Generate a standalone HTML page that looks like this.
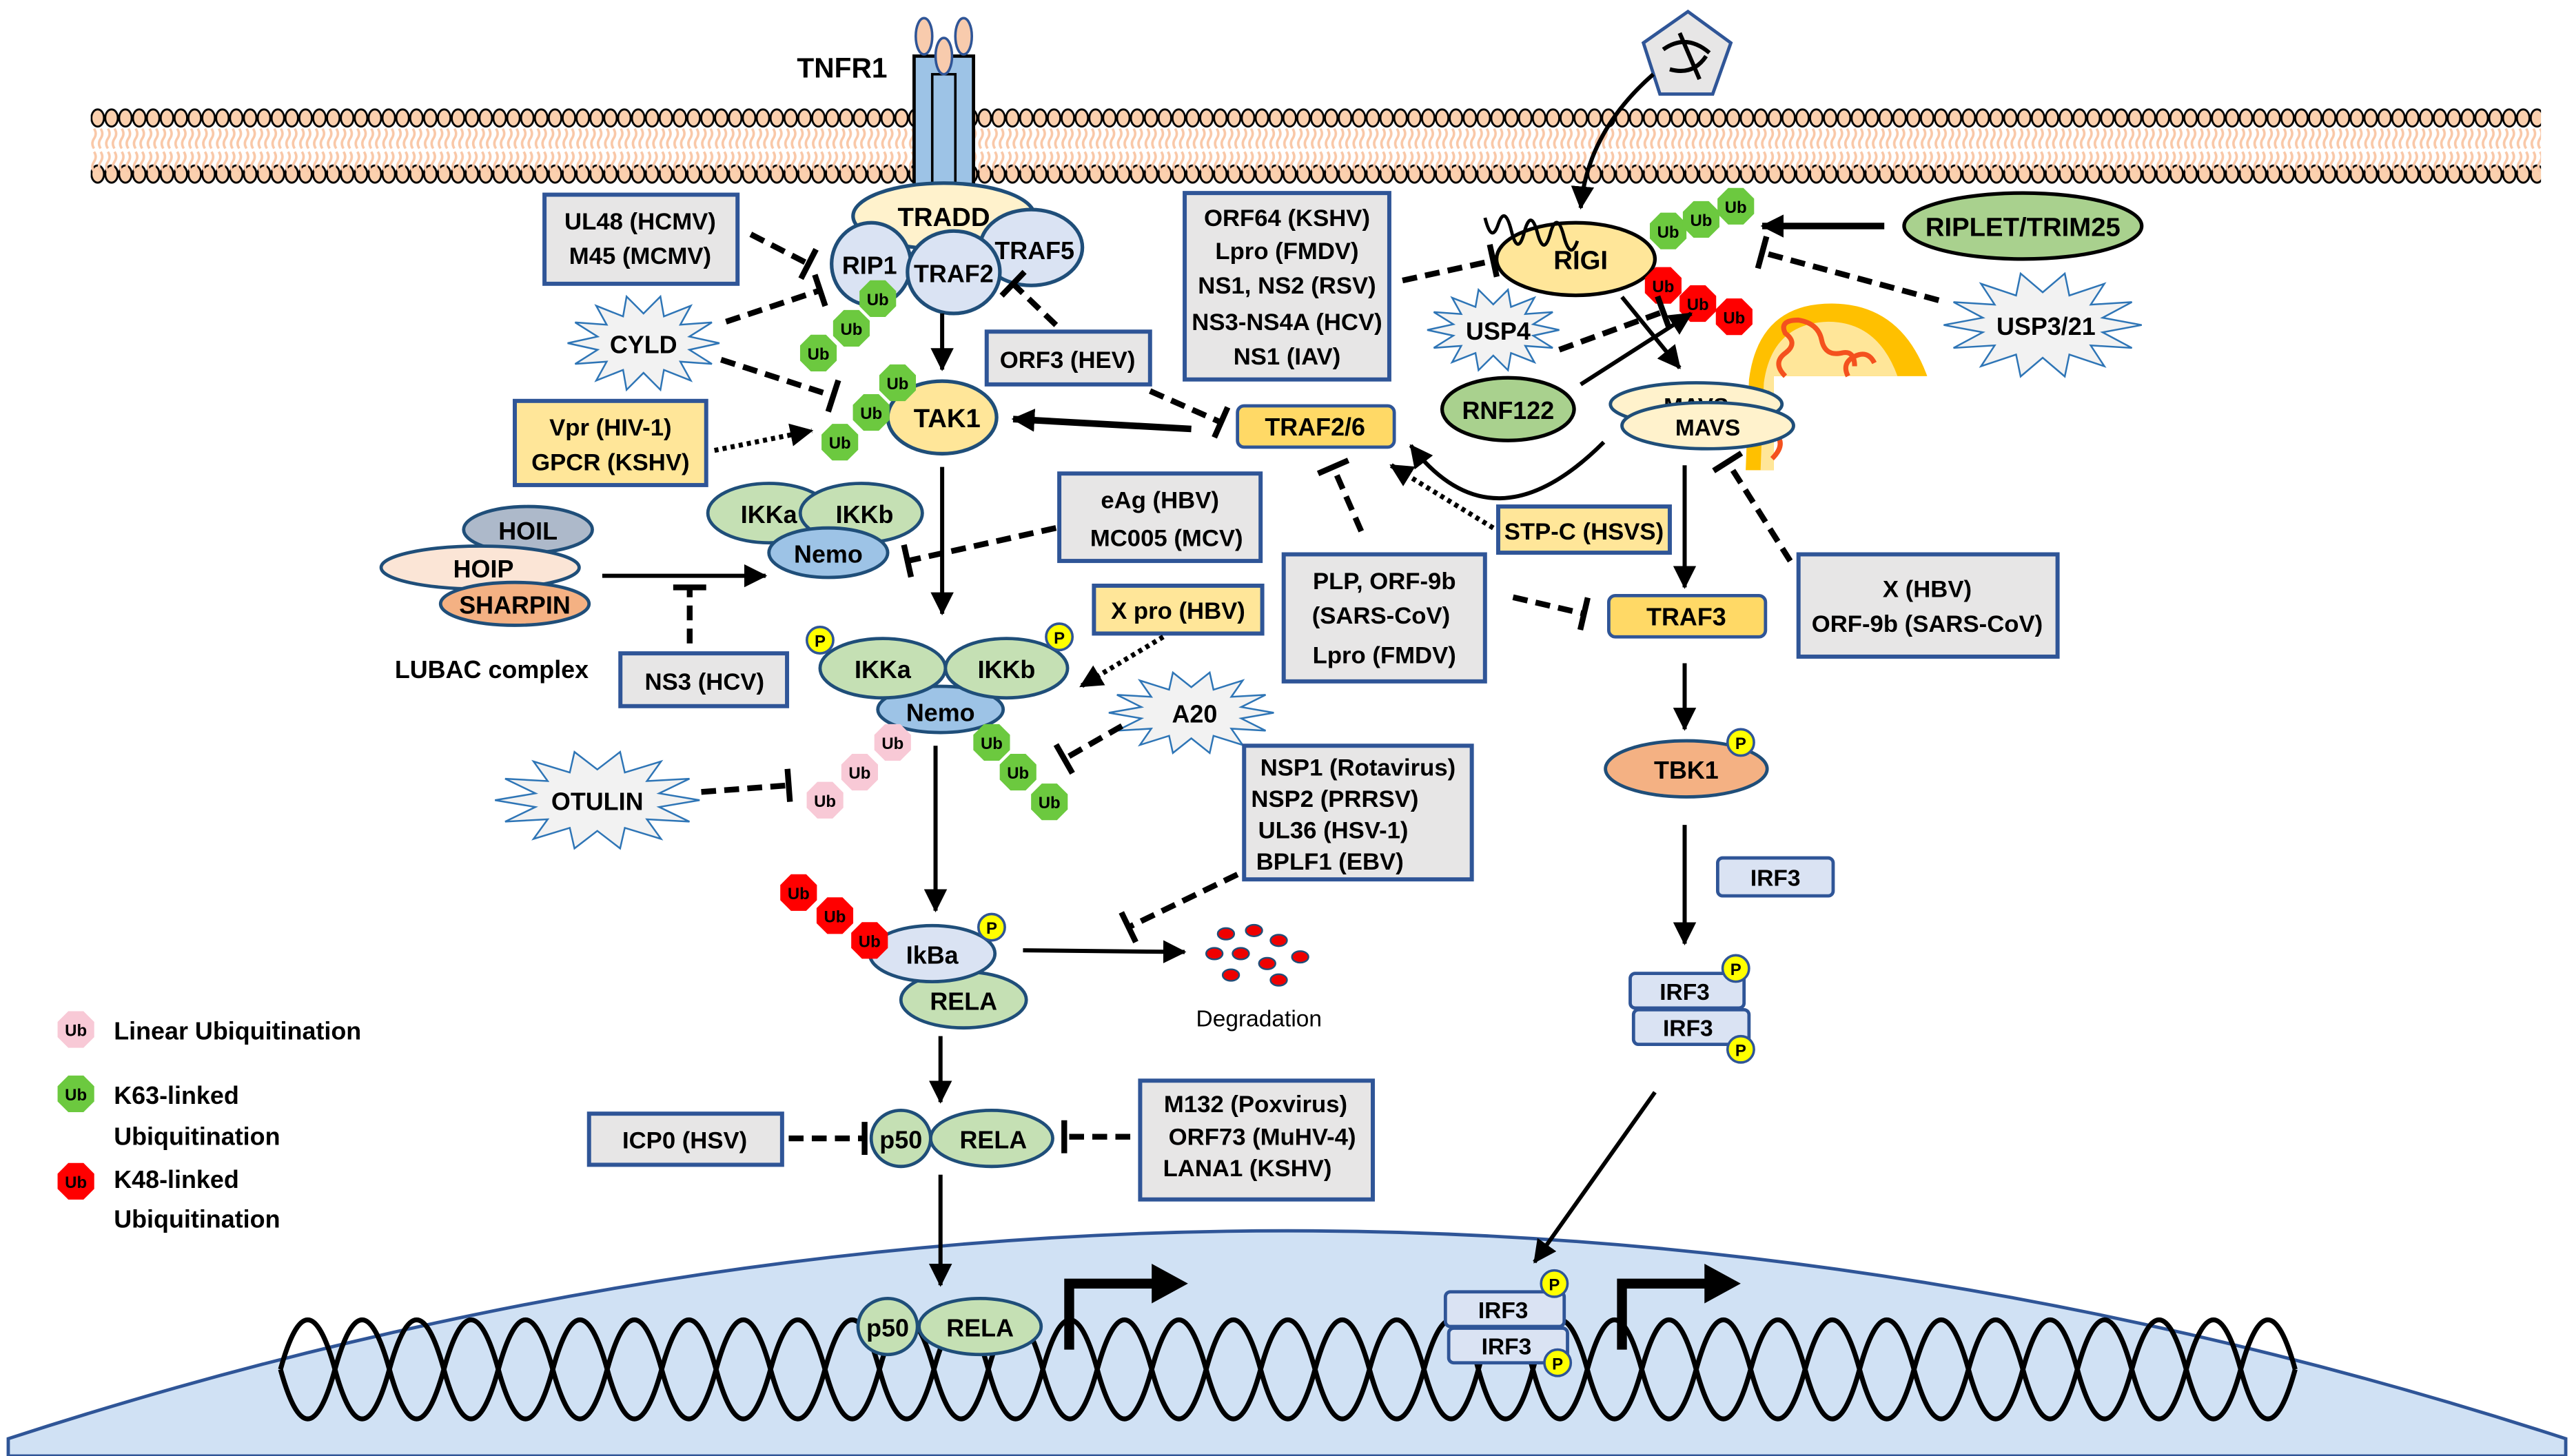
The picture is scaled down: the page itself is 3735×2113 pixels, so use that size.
<!DOCTYPE html>
<html><head><meta charset="utf-8"><style>
html,body{margin:0;padding:0;background:#fff}
svg{display:block}
text{font-family:"Liberation Sans",sans-serif;font-weight:bold;fill:#000}
</style></head><body>
<svg width="3735" height="2113" viewBox="0 0 1560 882.5" preserveAspectRatio="none" xmlns="http://www.w3.org/2000/svg">
<defs>
<pattern id="heads" x="55" y="0" width="8.4" height="200" patternUnits="userSpaceOnUse">
<ellipse cx="4.2" cy="71.5" rx="3.8" ry="5.2" fill="#fbd0ae" stroke="#000" stroke-width="1.2"/>
<ellipse cx="4.2" cy="105.5" rx="3.8" ry="5.2" fill="#fbd0ae" stroke="#000" stroke-width="1.2"/>
<path d="M2,78 q2,3 0,6 q-2,3 0,6 M6,78 q2,3 0,6 q-2,3 0,6 M2,92 q2,3 0,6 q-2,3 0,6 M6,92 q2,3 0,6 q-2,3 0,6" stroke="#f9c8a8" stroke-width="1.5" fill="none"/>
</pattern>
<polygon id="oct" points="11.1,4.6 4.6,11.1 -4.6,11.1 -11.1,4.6 -11.1,-4.6 -4.6,-11.1 4.6,-11.1 11.1,-4.6"/>
<polygon id="star" vector-effect="non-scaling-stroke" points="1,0 .605,.138 .901,.434 .485,.386 .623,.782 .269,.559 .223,.975 0,.62 -.223,.975 -.269,.559 -.623,.782 -.485,.386 -.901,.434 -.605,.138 -1,0 -.605,-.138 -.901,-.434 -.485,-.386 -.623,-.782 -.269,-.559 -.223,-.975 0,-.62 .223,-.975 .269,-.559 .623,-.782 .485,-.386 .901,-.434 .605,-.138"/>
<marker id="ah" markerUnits="userSpaceOnUse" markerWidth="16" markerHeight="14" refX="13" refY="7" orient="auto"><path d="M0,0 L14,7 L0,14 Z" fill="#000"/></marker>
<marker id="bar" markerUnits="userSpaceOnUse" markerWidth="6" markerHeight="24" refX="3" refY="12" orient="auto"><path d="M3,2 L3,22" stroke="#000" stroke-width="3.5"/></marker>
</defs>

<!-- membrane -->
<rect x="55" y="60" width="1485" height="55" fill="url(#heads)"/>

<!-- nucleus -->
<path d="M5,882.5 L5,872 Q780,620 1555,872 L1555,882.5 Z" fill="#d0e1f4" stroke="#2f5597" stroke-width="2"/>

<!-- DNA -->
<g fill="none" stroke="#000" stroke-width="3">
<path d="M170,830 q16.5,-60 33,0 t33,0 t33,0 t33,0 t33,0 t33,0 t33,0 t33,0 t33,0 t33,0 t33,0 t33,0 t33,0 t33,0 t33,0 t33,0 t33,0 t33,0 t33,0 t33,0 t33,0 t33,0 t33,0 t33,0 t33,0 t33,0 t33,0 t33,0 t33,0 t33,0 t33,0 t33,0 t33,0 t33,0 t33,0 t33,0 t33,0"/>
<path d="M170,830 q16.5,60 33,0 t33,0 t33,0 t33,0 t33,0 t33,0 t33,0 t33,0 t33,0 t33,0 t33,0 t33,0 t33,0 t33,0 t33,0 t33,0 t33,0 t33,0 t33,0 t33,0 t33,0 t33,0 t33,0 t33,0 t33,0 t33,0 t33,0 t33,0 t33,0 t33,0 t33,0 t33,0 t33,0 t33,0 t33,0 t33,0 t33,0"/>
</g>
<!-- promoter arrows -->
<path d="M648,818 L648,778 L700,778" fill="none" stroke="#000" stroke-width="6"/>
<path d="M698,766 L720,778 L698,790 Z"/>
<path d="M983,818 L983,778 L1035,778" fill="none" stroke="#000" stroke-width="6"/>
<path d="M1033,766 L1055,778 L1033,790 Z"/>

<!-- receptor -->
<rect x="554" y="34" width="36" height="80" fill="#9dc3e6" stroke="#000" stroke-width="2"/>
<rect x="565" y="45" width="14" height="69" fill="#9dc3e6" stroke="#000" stroke-width="1.5"/>
<ellipse cx="560" cy="22" rx="5" ry="11" fill="#f8cbad" stroke="#2f5597" stroke-width="1.5"/>
<ellipse cx="584" cy="22" rx="5" ry="11" fill="#f8cbad" stroke="#2f5597" stroke-width="1.5"/>
<ellipse cx="572" cy="34" rx="5" ry="11" fill="#f8cbad" stroke="#2f5597" stroke-width="1.5"/>
<text x="483" y="47" font-size="17">TNFR1</text>

<!-- virus pentagon -->
<polygon points="1023,7 1049,26 1038,57 1006,57 996,26" fill="#e7e6e6" stroke="#2f5597" stroke-width="2"/>
<path d="M1008,30 Q1022,20 1036,32 M1012,42 Q1026,46 1034,34 M1018,20 L1030,48" fill="none" stroke="#000" stroke-width="2.5"/>
<path d="M1002,45 Q962,80 958,126" fill="none" stroke="#000" stroke-width="2.5" marker-end="url(#ah)"/>

<!-- mitochondrion -->
<path d="M1058,285 L1060,230 Q1066,184 1110,184 Q1152,184 1168,228 L1075,228 L1075,285 Z" fill="#ffc000"/>
<path d="M1067,285 L1069,232 Q1074,196 1108,195 Q1138,195 1150,228 L1075,228 L1075,285 Z" fill="#ffe699"/>
<path d="M1082,228 q-8,-8 0,-14 q8,-6 0,-12 q-4,-8 8,-8 q12,2 14,12 q2,10 12,8 q8,-2 8,8 M1120,228 q-4,-8 4,-12 q8,-4 12,4 M1071,238 q8,4 3,12 q-5,8 3,14 q5,6 -3,14" fill="none" stroke="#f4511e" stroke-width="3"/>

<!-- TNF complex -->
<ellipse cx="572" cy="131" rx="55" ry="20" fill="#fff2cc" stroke="#1f4e79" stroke-width="2.2"/>
<ellipse cx="625" cy="150" rx="31" ry="23" fill="#dae3f3" stroke="#1f4e79" stroke-width="2.2"/>
<ellipse cx="528" cy="160" rx="24" ry="25" fill="#dae3f3" stroke="#1f4e79" stroke-width="2.2"/>
<ellipse cx="578" cy="165" rx="28" ry="25" fill="#dae3f3" stroke="#1f4e79" stroke-width="2.2"/>
<text x="572" y="137" font-size="16" text-anchor="middle">TRADD</text>
<text x="627" y="157" font-size="15" text-anchor="middle">TRAF5</text>
<text x="527" y="166" font-size="15" text-anchor="middle">RIP1</text>
<text x="578" y="171" font-size="15" text-anchor="middle">TRAF2</text>

<ellipse cx="571" cy="253" rx="33" ry="22" fill="#ffe699" stroke="#1f4e79" stroke-width="2.2"/>
<text x="574" y="259" font-size="16" text-anchor="middle">TAK1</text>

<!-- LUBAC -->
<ellipse cx="320" cy="321" rx="39" ry="14" fill="#adb9ca" stroke="#1f4e79" stroke-width="2"/>
<ellipse cx="291" cy="344" rx="60" ry="13" fill="#fbe5d6" stroke="#1f4e79" stroke-width="2"/>
<ellipse cx="312" cy="366" rx="45" ry="13" fill="#f4b183" stroke="#1f4e79" stroke-width="2"/>
<text x="320" y="327" font-size="15" text-anchor="middle">HOIL</text>
<text x="293" y="350" font-size="15" text-anchor="middle">HOIP</text>
<text x="312" y="372" font-size="15" text-anchor="middle">SHARPIN</text>
<text x="298" y="411" font-size="15" text-anchor="middle">LUBAC complex</text>

<!-- IKK upper -->
<ellipse cx="466" cy="311" rx="37" ry="18" fill="#c5e0b4" stroke="#1f4e79" stroke-width="2"/>
<ellipse cx="522" cy="311" rx="37" ry="18" fill="#c5e0b4" stroke="#1f4e79" stroke-width="2"/>
<ellipse cx="502" cy="335" rx="36" ry="15" fill="#9dc3e6" stroke="#1f4e79" stroke-width="2"/>
<text x="466" y="317" font-size="15" text-anchor="middle">IKKa</text>
<text x="524" y="317" font-size="15" text-anchor="middle">IKKb</text>
<text x="502" y="341" font-size="15" text-anchor="middle">Nemo</text>

<!-- IKK lower -->
<ellipse cx="570" cy="430" rx="38" ry="14" fill="#9dc3e6" stroke="#1f4e79" stroke-width="2"/>
<ellipse cx="535" cy="405" rx="38" ry="18" fill="#c5e0b4" stroke="#1f4e79" stroke-width="2"/>
<ellipse cx="610" cy="405" rx="37" ry="18" fill="#c5e0b4" stroke="#1f4e79" stroke-width="2"/>
<text x="535" y="411" font-size="15" text-anchor="middle">IKKa</text>
<text x="610" y="411" font-size="15" text-anchor="middle">IKKb</text>
<text x="570" y="437" font-size="15" text-anchor="middle">Nemo</text>

<!-- IkBa / RELA -->
<ellipse cx="584" cy="606" rx="38" ry="17" fill="#c5e0b4" stroke="#1f4e79" stroke-width="2"/>
<ellipse cx="565" cy="578" rx="38" ry="17" fill="#dae3f3" stroke="#1f4e79" stroke-width="2"/>
<text x="565" y="584" font-size="15" text-anchor="middle">IkBa</text>
<text x="584" y="612" font-size="15" text-anchor="middle">RELA</text>

<ellipse cx="601" cy="690" rx="37" ry="17" fill="#c5e0b4" stroke="#1f4e79" stroke-width="2"/>
<ellipse cx="546" cy="690" rx="18" ry="17" fill="#c5e0b4" stroke="#1f4e79" stroke-width="2"/>
<text x="546" y="696" font-size="15" text-anchor="middle">p50</text>
<text x="602" y="696" font-size="15" text-anchor="middle">RELA</text>
<ellipse cx="594" cy="804" rx="37" ry="17" fill="#c5e0b4" stroke="#1f4e79" stroke-width="2"/>
<ellipse cx="538" cy="804" rx="18" ry="17" fill="#c5e0b4" stroke="#1f4e79" stroke-width="2"/>
<text x="538" y="810" font-size="15" text-anchor="middle">p50</text>
<text x="594" y="810" font-size="15" text-anchor="middle">RELA</text>

<!-- RIG-I side -->
<ellipse cx="955" cy="157" rx="48" ry="22" fill="#ffe699" stroke="#000" stroke-width="2.2"/>
<text x="958" y="163" font-size="16" text-anchor="middle">RIGI</text>
<path d="M900,132 q4,16 8,4 q4,-12 8,4 q4,16 8,0 q4,-14 8,2 q4,14 8,-2 q4,-12 8,4 q4,14 8,2" fill="none" stroke="#000" stroke-width="2"/>
<ellipse cx="1226" cy="137" rx="72" ry="20" fill="#a9d18e" stroke="#000" stroke-width="2.2"/>
<text x="1226" y="143" font-size="16" text-anchor="middle">RIPLET/TRIM25</text>
<ellipse cx="914" cy="248" rx="40" ry="19" fill="#a9d18e" stroke="#000" stroke-width="2.2"/>
<text x="914" y="254" font-size="15" text-anchor="middle">RNF122</text>
<ellipse cx="1028" cy="245" rx="52" ry="13" fill="#fff2cc" stroke="#1f4e79" stroke-width="2"/>
<text x="1028" y="251" font-size="14" text-anchor="middle">MAVS</text>
<ellipse cx="1035" cy="258" rx="52" ry="14" fill="#fff2cc" stroke="#1f4e79" stroke-width="2"/>
<text x="1035" y="264" font-size="14" text-anchor="middle">MAVS</text>

<rect x="750" y="246" width="95" height="25" rx="4" fill="#ffd966" stroke="#2f5597" stroke-width="2"/>
<text x="797" y="264" font-size="15" text-anchor="middle">TRAF2/6</text>
<rect x="975" y="361" width="95" height="25" rx="4" fill="#ffd966" stroke="#2f5597" stroke-width="2"/>
<text x="1022" y="379" font-size="15" text-anchor="middle">TRAF3</text>
<ellipse cx="1022" cy="466" rx="49" ry="17" fill="#f4b183" stroke="#1f4e79" stroke-width="2"/>
<text x="1022" y="472" font-size="15" text-anchor="middle">TBK1</text>
<rect x="1041" y="520" width="70" height="23" rx="3" fill="#dae3f3" stroke="#2f5597" stroke-width="2"/>
<text x="1076" y="537" font-size="14" text-anchor="middle">IRF3</text>
<rect x="988" y="590" width="69" height="21" rx="3" fill="#dae3f3" stroke="#2f5597" stroke-width="2"/>
<rect x="990" y="612" width="70" height="21" rx="3" fill="#dae3f3" stroke="#2f5597" stroke-width="2"/>
<text x="1021" y="606" font-size="14" text-anchor="middle">IRF3</text>
<text x="1023" y="628" font-size="14" text-anchor="middle">IRF3</text>
<rect x="876" y="783" width="72" height="21" rx="3" fill="#dae3f3" stroke="#2f5597" stroke-width="2"/>
<rect x="878" y="805" width="72" height="21" rx="3" fill="#dae3f3" stroke="#2f5597" stroke-width="2"/>
<text x="911" y="799" font-size="14" text-anchor="middle">IRF3</text>
<text x="913" y="821" font-size="14" text-anchor="middle">IRF3</text>

<!-- P circles -->
<g fill="#ffff00" stroke="#2f5597" stroke-width="1.5">
<circle cx="497" cy="388" r="8"/><circle cx="642" cy="386" r="8"/><circle cx="601" cy="562" r="8"/>
<circle cx="1055" cy="450" r="8"/><circle cx="1052" cy="587" r="8"/><circle cx="1055" cy="636" r="8"/>
<circle cx="942" cy="778" r="8"/><circle cx="944" cy="826" r="8"/>
</g>
<g font-size="10" text-anchor="middle">
<text x="497" y="392">P</text><text x="642" y="390">P</text><text x="601" y="566">P</text>
<text x="1055" y="454">P</text><text x="1052" y="591">P</text><text x="1055" y="640">P</text>
<text x="942" y="782">P</text><text x="944" y="830">P</text>
</g>

<!-- Ub -->
<g fill="#6cc93f">
<use href="#oct" x="532" y="181"/><use href="#oct" x="516" y="199"/><use href="#oct" x="496" y="214"/>
<use href="#oct" x="544" y="232"/><use href="#oct" x="528" y="250"/><use href="#oct" x="509" y="268"/>
<use href="#oct" x="1011" y="140"/><use href="#oct" x="1031" y="133"/><use href="#oct" x="1052" y="125"/>
<use href="#oct" x="601" y="450"/><use href="#oct" x="617" y="468"/><use href="#oct" x="636" y="486"/>
<use href="#oct" x="46" y="663"/>
</g>
<g fill="#f00">
<use href="#oct" x="1008" y="173"/><use href="#oct" x="1029" y="184"/><use href="#oct" x="1051" y="192"/>
<use href="#oct" x="484" y="541"/><use href="#oct" x="506" y="555"/><use href="#oct" x="527" y="570"/>
<use href="#oct" x="46" y="716"/>
</g>
<g fill="#f8c9d6">
<use href="#oct" x="541" y="450"/><use href="#oct" x="521" y="468"/><use href="#oct" x="500" y="485"/>
<use href="#oct" x="46" y="624"/>
</g>
<g font-size="10" text-anchor="middle">
<text x="532" y="185">Ub</text><text x="516" y="203">Ub</text><text x="496" y="218">Ub</text>
<text x="544" y="236">Ub</text><text x="528" y="254">Ub</text><text x="509" y="272">Ub</text>
<text x="1011" y="144">Ub</text><text x="1031" y="137">Ub</text><text x="1052" y="129">Ub</text>
<text x="601" y="454">Ub</text><text x="617" y="472">Ub</text><text x="636" y="490">Ub</text>
<text x="1008" y="177">Ub</text><text x="1029" y="188">Ub</text><text x="1051" y="196">Ub</text>
<text x="484" y="545">Ub</text><text x="506" y="559">Ub</text><text x="527" y="574">Ub</text>
<text x="541" y="454">Ub</text><text x="521" y="472">Ub</text><text x="500" y="489">Ub</text>
<text x="46" y="628">Ub</text><text x="46" y="667">Ub</text><text x="46" y="720">Ub</text>
</g>

<!-- legend -->
<g font-size="15">
<text x="69" y="630">Linear Ubiquitination</text>
<text x="69" y="669">K63-linked</text>
<text x="69" y="694">Ubiquitination</text>
<text x="69" y="720">K48-linked</text>
<text x="69" y="744">Ubiquitination</text>
</g>

<!-- Degradation -->
<g fill="#e00" stroke="#1f4e79" stroke-width="1">
<ellipse cx="743" cy="566" rx="5" ry="3.5"/><ellipse cx="760" cy="564" rx="5" ry="3.5"/><ellipse cx="775" cy="570" rx="5" ry="3.5"/>
<ellipse cx="736" cy="578" rx="5" ry="3.5"/><ellipse cx="752" cy="578" rx="5" ry="3.5"/><ellipse cx="788" cy="580" rx="5" ry="3.5"/>
<ellipse cx="768" cy="584" rx="5" ry="3.5"/><ellipse cx="746" cy="591" rx="5" ry="3.5"/><ellipse cx="775" cy="594" rx="5" ry="3.5"/>
</g>
<text x="763" y="622" font-size="14" style="font-weight:normal" text-anchor="middle">Degradation</text>

<!-- stars -->
<g fill="#f2f2f2" stroke="#2e75b6" stroke-width="2.5">
<use href="#star" transform="translate(390,208) scale(46,29)"/>
<use href="#star" transform="translate(905,200) scale(40,25)"/>
<use href="#star" transform="translate(722,432) scale(50,25)"/>
<use href="#star" transform="translate(362,485) scale(62,30)"/>
<use href="#star" transform="translate(1238,197) scale(60,32)"/>
</g>
<g font-size="15" text-anchor="middle">
<text x="390" y="214">CYLD</text><text x="908" y="206">USP4</text><text x="724" y="438">A20</text>
<text x="362" y="491">OTULIN</text><text x="1240" y="203">USP3/21</text>
</g>

<!-- boxes -->
<g fill="#e7e6e6" stroke="#2f5597" stroke-width="2.5">
<rect x="330" y="118" width="117" height="54"/>
<rect x="718" y="117" width="124" height="113"/>
<rect x="598" y="201" width="99" height="32"/>
<rect x="642" y="287" width="122" height="53"/>
<rect x="376" y="396" width="101" height="32"/>
<rect x="778" y="336" width="122" height="77"/>
<rect x="1090" y="336" width="157" height="62"/>
<rect x="754" y="452" width="138" height="81"/>
<rect x="357" y="675" width="117" height="31"/>
<rect x="691" y="655" width="141" height="72"/>
</g>
<g fill="#ffe699" stroke="#2f5597" stroke-width="2.5">
<rect x="312" y="243" width="116" height="51"/>
<rect x="663" y="355" width="102" height="29"/>
<rect x="908" y="307" width="104" height="28"/>
</g>
<g font-size="14.5" text-anchor="middle">
<text x="388" y="139">UL48 (HCMV)</text><text x="388" y="160">M45 (MCMV)</text>
<text x="780" y="137">ORF64 (KSHV)</text><text x="780" y="157">Lpro (FMDV)</text><text x="780" y="178">NS1, NS2 (RSV)</text><text x="780" y="200">NS3-NS4A (HCV)</text><text x="780" y="221">NS1 (IAV)</text>
<text x="647" y="223">ORF3 (HEV)</text>
<text x="703" y="308">eAg (HBV)</text><text x="707" y="331">MC005 (MCV)</text>
<text x="427" y="418">NS3 (HCV)</text>
<text x="839" y="357">PLP, ORF-9b</text><text x="837" y="378">(SARS-CoV)</text><text x="839" y="402">Lpro (FMDV)</text>
<text x="1168" y="362">X (HBV)</text><text x="1168" y="383">ORF-9b (SARS-CoV)</text>
<text x="823" y="470">NSP1 (Rotavirus)</text><text x="809" y="489">NSP2 (PRRSV)</text><text x="808" y="508">UL36 (HSV-1)</text><text x="806" y="527">BPLF1 (EBV)</text>
<text x="415" y="696">ICP0 (HSV)</text>
<text x="761" y="674">M132 (Poxvirus)</text><text x="765" y="694">ORF73 (MuHV-4)</text><text x="756" y="713">LANA1 (KSHV)</text>
<text x="370" y="264">Vpr (HIV-1)</text><text x="370" y="285">GPCR (KSHV)</text>
<text x="714" y="375">X pro (HBV)</text>
<text x="960" y="327">STP-C (HSVS)</text>
</g>

<!-- solid arrows -->
<g fill="none" stroke="#000" stroke-width="2.5" marker-end="url(#ah)">
<path d="M571,190 L571,224"/>
<path d="M571,283 L571,372"/>
<path d="M365,349 L464,349"/>
<path d="M567,452 L567,552"/>
<path d="M620,576 L718,577"/>
<path d="M570,628 L570,668"/>
<path d="M570,712 L570,779"/>
<path d="M983,180 L1018,223"/>
<path d="M958,233 L1025,190"/>
<path d="M972,268 Q905,335 855,270"/>
<path d="M1021,282 L1021,356"/>
<path d="M1021,402 L1021,442"/>
<path d="M1021,500 L1021,572"/>
<path d="M1003,662 L930,765"/>
</g>
<path d="M722,260 L614,254" stroke="#000" stroke-width="4" marker-end="url(#ah)"/>
<path d="M1142,137 L1068,137" stroke="#000" stroke-width="4" marker-end="url(#ah)"/>

<!-- dotted arrows -->
<g fill="none" stroke="#000" stroke-width="3" stroke-dasharray="2.5 2.5" marker-end="url(#ah)">
<path d="M433,273 L492,261"/>
<path d="M705,386 L655,416"/>
<path d="M905,320 L843,282"/>
</g>

<!-- dashed inhibitors -->
<g fill="none" stroke="#000" stroke-width="3.5" stroke-dasharray="9 5" marker-end="url(#bar)">
<path d="M455,142 L490,160"/>
<path d="M440,195 L497,176"/>
<path d="M437,218 L505,240"/>
<path d="M640,197 L614,172"/>
<path d="M697,237 L740,256"/>
<path d="M640,320 L550,340"/>
<path d="M418,390 L418,356"/>
<path d="M680,440 L645,460"/>
<path d="M425,480 L478,476"/>
<path d="M750,530 L684,562"/>
<path d="M478,690 L524,690"/>
<path d="M685,689 L645,689"/>
<path d="M850,170 L905,158"/>
<path d="M945,212 L1008,189"/>
<path d="M1175,182 L1068,153"/>
<path d="M825,322 L808,283"/>
<path d="M917,362 L960,372"/>
<path d="M1085,340 L1047,280"/>
</g>
</svg>
</body></html>
